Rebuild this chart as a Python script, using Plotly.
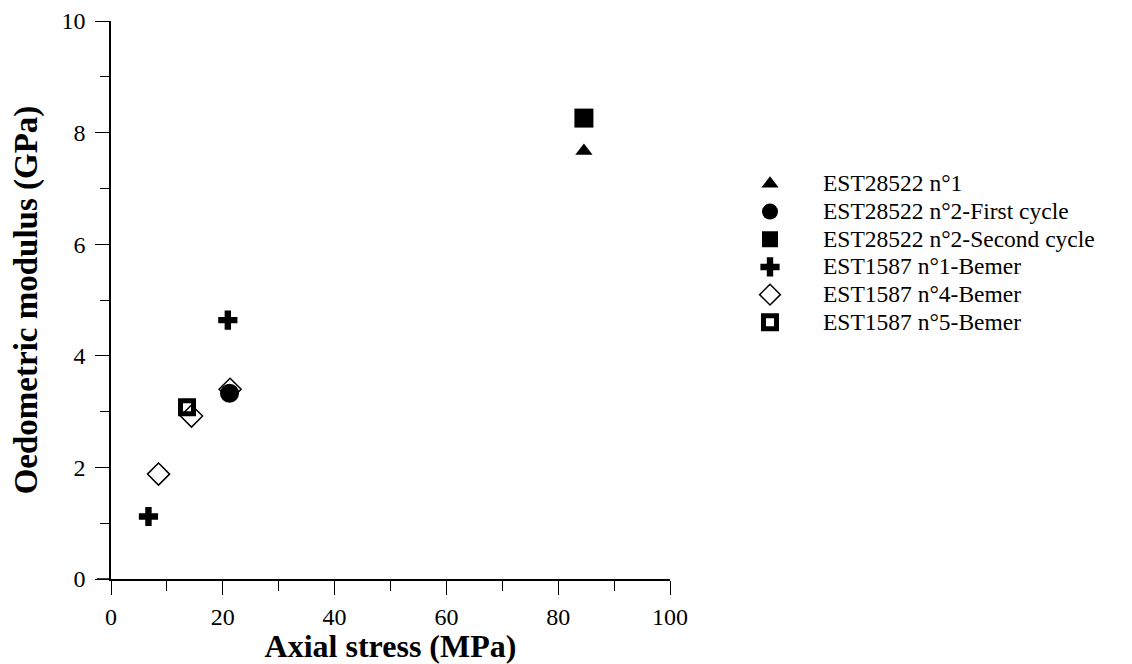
import plotly.graph_objects as go

# Data
names = ["EST28522 n°1", "EST28522 n°2-First cycle", "EST28522 n°2-Second cycle",
         "EST1587 n°1-Bemer", "EST1587 n°4-Bemer", "EST1587 n°5-Bemer"]
x_n1 = [84.6]
y_n1 = [7.67]
x_n2_first = [21.2]
y_n2_first = [3.33]
x_n2_second = [84.6]
y_n2_second = [8.26]
x_b1 = [6.7, 20.9]
y_b1 = [1.12, 4.64]
x_b4 = [8.5, 14.4, 21.3]
y_b4 = [1.88, 2.92, 3.40]
x_b5 = [13.6]
y_b5 = [3.08]

xs = [x_n1, x_n2_first, x_n2_second, x_b1, x_b4, x_b5]
ys = [y_n1, y_n2_first, y_n2_second, y_b1, y_b4, y_b5]
styles = [
    dict(symbol="triangle-up", size=15, color="black", line=dict(width=0)),
    dict(symbol="circle", size=19, color="black", line=dict(width=0)),
    dict(symbol="square", size=19, color="black", line=dict(width=0)),
    dict(symbol="cross", size=16, color="black", line=dict(width=0)),
    dict(symbol="diamond-open", size=17, color="black", line=dict(width=1.5, color="black")),
    dict(symbol="square-open", size=13, color="black", line=dict(width=5, color="black")),
]

fig = go.Figure()
for n, x, y, st in zip(names, xs, ys, styles):
    fig.add_trace(go.Scatter(x=x, y=y, mode="markers",
                             name='<span style="font-size:23.5px">' + n + '</span>',
                             marker=st))

# The page body has an 8px margin, so the figure is sized to fit the 1132x664 window
W, H = 1124, 656
L, R, T, B = 103, 462, 13, 85
PW = W - L - R
PH = H - T - B
fig.update_layout(
    width=W, height=H,
    margin=dict(l=L, r=R, t=T, b=B, pad=0, autoexpand=False),
    paper_bgcolor="white", plot_bgcolor="white",
    font=dict(family="Liberation Serif, Times New Roman, serif", color="black", size=22),
    showlegend=True,
    legend=dict(x=(709 - L) / PW, y=1 - (157 - T) / PH, xanchor="left", yanchor="top",
                font=dict(size=19, family="Liberation Serif, serif"),
                bgcolor="rgba(0,0,0,0)", tracegroupgap=0, itemsizing="trace",
                itemwidth=96),
)
fig.update_xaxes(
    range=[0, 100], tick0=0, dtick=20, showgrid=False, zeroline=False, automargin=False,
    showline=True, linecolor="black", linewidth=1.5, ticklabeloverflow="allow",
    ticks="outside", ticklen=14, tickwidth=1, tickcolor="black", ticklabelstandoff=1,
    minor=dict(ticks="outside", ticklen=10, dtick=10, tickwidth=1, tickcolor="black", showgrid=False),
    tickfont=dict(size=24),
    title=dict(text="<b>Axial stress (MPa)</b>", font=dict(size=32), standoff=8),
)
fig.update_yaxes(
    range=[0, 10], tick0=0, dtick=2, showgrid=False, zeroline=False, automargin=False,
    showline=True, linecolor="black", linewidth=1.5, ticklabeloverflow="allow",
    ticks="outside", ticklen=14, tickwidth=1, tickcolor="black", ticklabelstandoff=5,
    minor=dict(ticks="outside", ticklen=9, dtick=1, tickwidth=1, tickcolor="black", showgrid=False),
    tickfont=dict(size=24),
    title=dict(text="<b>Oedometric modulus (GPa)</b>", font=dict(size=33), standoff=23),
)
# small extension of the x axis line to the left of the y axis
fig.add_shape(type="line", xref="paper", yref="paper", x0=-14 / PW, x1=0, y0=0, y1=0,
              line=dict(color="black", width=1.5))
fig.write_html("out.html")
